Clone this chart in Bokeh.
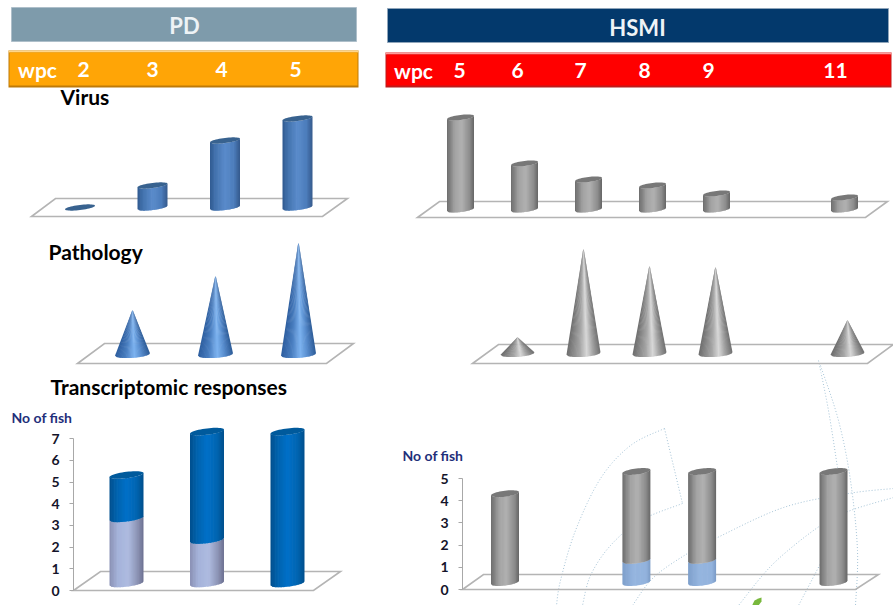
import math
from bokeh.plotting import figure
from bokeh.layouts import column, row
from bokeh.models import Range1d, Label, FixedTicker
from bokeh.core.properties import value
from bokeh.embed import file_html
from bokeh.resources import INLINE

# ---------- data ----------
pd_wpc_labels = ["2", "3", "4", "5"]
hsmi_wpc_labels = ["5", "6", "7", "8", "9", "11"]

pd_virus_wpc = [2, 3, 4, 5]
pd_virus = [0.0, 2.2, 6.7, 8.9]
hsmi_virus_wpc = [5, 6, 7, 8, 9, 11]
hsmi_virus = [9.2, 4.6, 3.0, 2.4, 1.6, 1.2]

pd_path_wpc = [3, 4, 5]
pd_path = [4.4, 7.8, 11.1]
hsmi_path_wpc = [6, 7, 8, 9, 11]
hsmi_path = [1.6, 10.4, 8.7, 8.6, 3.3]

pd_fish_wpc = [3, 4, 5]
pd_fish_lower = [3, 2, 0]
pd_fish_upper = [2, 5, 7]
hsmi_fish_wpc = [6, 8, 9, 11]
hsmi_fish_lower = [0, 1, 1, 0]
hsmi_fish_upper = [4, 4, 4, 5]

# ---------- styles / layout ----------
FONT = "Lato"
FLOOR = "#B4B4B4"
BLUE = [(0, "#2F5A90"), (.18, "#4373AE"), (.5, "#5A8BCB"), (.8, "#4C7DBB"), (1, "#33588A")]
GRAY = [(0, "#6C6C6C"), (.3, "#A4A4A4"), (.55, "#B0B0B0"), (.85, "#8A8A8A"), (1, "#646464")]
DEEP = [(0, "#004E8C"), (.2, "#0062AC"), (.5, "#0070C8"), (.8, "#0064B0"), (1, "#004F8C")]
PERI = [(0, "#8A90B4"), (.25, "#A5B3DA"), (.55, "#AEBBE0"), (.85, "#888FB0"), (1, "#6C7090")]
SKY = [(0, "#7E9FCB"), (.4, "#95B5DF"), (.85, "#93B3DD"), (1, "#7A9AC5")]
CONE_B = [(0, "#2D5E9F"), (.3, "#4A7EC0"), (.55, "#7DB3F0"), (.75, "#5A8FD0"), (1, "#2E5C98")]
CONE_G = [(0, "#6E6E6E"), (.4, "#A8A8A8"), (.6, "#D8D8D8"), (.8, "#A0A0A0"), (1, "#707070")]

LEFT_X, LEFT_W = 0, 372
RIGHT_X, RIGHT_W = 372, 521
HEAD_H = 112

WATERMARK = [
    [(818, 360), (828, 410), (837, 467)],
    [(820, 365), (838, 420), (850, 480), (857, 550), (855, 605)],
    [(664, 428), (630, 445), (600, 478), (575, 530), (560, 580), (556, 605)],
    [(664, 428), (682, 503)],
    [(682, 503), (640, 520), (610, 545), (590, 575), (582, 605)],
    [(893, 488), (848, 493), (783, 507), (717, 537), (687, 553), (653, 577), (632, 605)],
    [(893, 497), (850, 510), (820, 525), (773, 563), (738, 605)],
    [(832, 540), (820, 563), (798, 605)],
]
LEAF = [(752, 604), (754, 600), (758, 598), (761, 597), (761, 601), (758, 605), (752, 605)]


def hex2rgb(c):
    return tuple(int(c[i:i + 2], 16) for i in (1, 3, 5))


def ramp(stops, t):
    for (t0, c0), (t1, c1) in zip(stops, stops[1:]):
        if t <= t1:
            f = (t - t0) / (t1 - t0)
            a, b = hex2rgb(c0), hex2rgb(c1)
            return "#%02x%02x%02x" % tuple(round(a[i] + (b[i] - a[i]) * f) for i in range(3))
    return stops[-1][1]


def smooth(pts, n=10):
    if len(pts) < 3:
        return pts
    p = [pts[0]] + list(pts) + [pts[-1]]
    out = []
    for i in range(1, len(p) - 2):
        for j in range(n):
            t = j / n
            out.append(tuple(0.5 * (2 * p[i][k] + (p[i + 1][k] - p[i - 1][k]) * t
                                    + (2 * p[i - 1][k] - 5 * p[i][k] + 4 * p[i + 1][k] - p[i + 2][k]) * t * t
                                    + (3 * p[i][k] - p[i - 1][k] - 3 * p[i + 1][k] + p[i + 2][k]) * t ** 3)
                             for k in (0, 1)))
    out.append(pts[-1])
    return out


class Panel:
    """A figure whose scales put x value `wa` at page pixel `xa` (k px per unit) and y 0 at `y0` (s px per unit)."""

    def __init__(self, col_x, col_w, top, h, wa, xa, k, y0, s, axis=None, axis_px=None):
        self.wa, self.xa, self.k, self.y0, self.s = wa, xa, k, y0, s
        self.p = figure(width=col_w, height=h, output_backend="svg", toolbar_location=None,
                        x_range=Range1d(self.X(col_x), self.X(col_x + col_w)),
                        y_range=Range1d(self.Y(top + h), self.Y(top)),
                        x_axis_type=None, y_axis_type="linear" if axis else None,
                        min_border=0, outline_line_color=None)
        self.p.grid.visible = False
        if axis:
            ya = self.p.yaxis[0]
            ya.fixed_location = self.X(axis_px)
            ya.ticker = FixedTicker(ticks=list(range(axis + 1)))
            ya.bounds = (0, axis)
            ya.axis_line_color = "#A8A8A8"
            ya.major_tick_line_color = "#A8A8A8"
            ya.major_tick_in = 0
            ya.major_tick_out = 4
            ya.minor_tick_line_color = None
            ya.major_label_standoff = 10
            ya.major_label_text_font = FONT
            ya.major_label_text_font_style = "bold"
            ya.major_label_text_font_size = "14px"
            ya.major_label_text_color = "#14142a"

    def X(self, px):
        return self.wa + (px - self.xa) / self.k

    def Y(self, py):
        return (self.y0 - py) / self.s

    def watermark(self):
        xs, ys = [], []
        for c in WATERMARK:
            sm = smooth(c)
            xs.append([self.X(a) for a, _ in sm])
            ys.append([self.Y(b) for _, b in sm])
        self.p.multi_line(xs, ys, line_color="#A5C3D6", line_width=1, line_dash="1 2")

    def floor(self, corners):
        self.p.patch([self.X(a) for a, _ in corners], [self.Y(b) for _, b in corners],
                     fill_alpha=0, line_color=FLOOR, line_width=1.6, line_join="miter")

    def label(self, px, py, text, size, color="#000000"):
        self.p.add_layout(Label(x=self.X(px), y=self.Y(py), text=text, text_font=FONT, text_font_style="bold",
                                text_font_size=size, text_color=color, text_baseline="middle"))

    def cylinder(self, wpc, segs, w, stops_top, lift=0, b=2.6, tilt=0.12, n=22):
        """segs: list of (v0, v1, stops) from the bottom up; `lift` is the 3-D depth offset in px."""
        a = w / 2
        xs, ys, cols = [], [], []

        def low(dx):
            return (-b * math.sqrt(max(0, 1 - (dx / a) ** 2)) + tilt * dx + lift) / self.s

        for v0, v1, stops in segs:
            for i in range(n):
                d0 = -a + w * i / n
                d1 = min(a, -a + w * (i + 1) / n + 0.7)
                xs.append([wpc + d0 / self.k, wpc + d1 / self.k, wpc + d1 / self.k, wpc + d0 / self.k])
                ys.append([v0 + low(d0), v0 + low(d1), v1 + low(d1), v1 + low(d0)])
                cols.append(ramp(stops, (i + .5) / n))
        self.p.patches(xs, ys, fill_color=cols, line_color=None)
        top = segs[-1][1]
        ex, ey = [], []
        for j in range(49):
            th = 2 * math.pi * j / 48
            dx = a * math.cos(th)
            ex.append(wpc + dx / self.k)
            ey.append(top + (b * math.sin(th) + tilt * dx + lift) / self.s)
        self.p.patch(ex, ey, fill_color=stops_top, line_color=None)

    def cone(self, wpc, height, w, stops, b=3.4, tilt=0.07, n=26):
        a = w / 2
        xs, ys, cols = [], [], []

        def low(dx):
            return (-b * math.sqrt(max(0, 1 - (dx / a) ** 2)) + tilt * dx) / self.s

        for i in range(n):
            d0 = -a + w * i / n
            d1 = min(a, -a + w * (i + 1) / n + 0.7)
            xs.append([wpc + d0 * 0.02 / self.k, wpc + d0 / self.k, wpc + d1 / self.k, wpc + d1 * 0.02 / self.k])
            ys.append([height, low(d0), low(d1), height])
            cols.append(ramp(stops, (i + .5) / n))
        self.p.patches(xs, ys, fill_color=cols, line_color=None)


def header(col_x, col_w, title_rect, title_col, title_edge, title, title_px, title_py,
           bar_rect, bar_col, bar_light, bar_dark, words, word_px, word_py):
    p = figure(width=col_w, height=HEAD_H, output_backend="svg", toolbar_location=None,
               x_range=Range1d(col_x, col_x + col_w), y_range=Range1d(HEAD_H, 0),
               x_axis_type=None, y_axis_type=None, min_border=0, outline_line_color=None)
    p.grid.visible = False
    x0, x1, y0, y1 = title_rect
    p.quad(left=x0, right=x1, top=y0, bottom=y1, fill_color=title_col, line_color=title_edge, line_width=1)
    x0, x1, y0, y1 = bar_rect
    p.quad(left=x0, right=x1, top=y0, bottom=y1, fill_color=bar_dark, line_color=None)
    p.quad(left=x0, right=x1, top=y0, bottom=y0 + 2, fill_color=bar_light, line_color=None)
    p.quad(left=x0 + 1, right=x1 - 1, top=y0 + 2, bottom=y1 - 2, fill_color=bar_col, line_color=None)
    p.text([title_px], [title_py], text=[title], text_color="#EEF3F6", text_font=value(FONT),
           text_font_style="bold", text_font_size="22px", text_align="center", text_baseline="middle")
    p.text(word_px, [word_py] * len(words), text=words, text_color="#FFFFFF", text_font=value(FONT),
           text_font_style="bold", text_font_size="21px", text_align="center", text_baseline="middle")
    return p


# ---------- headers ----------
h_left = header(LEFT_X, LEFT_W, (11, 356, 7, 41), "#7E9BAB", "#AEBFCA", "PD", 184, 25,
                (8, 358, 50, 87), "#FFA506", "#FFD689", "#BE7A08",
                ["wpc"] + pd_wpc_labels, [37, 83, 152, 221, 295], 69)
h_right = header(RIGHT_X, RIGHT_W, (387, 888, 8, 42), "#03396C", "#8FA5BA", "HSMI", 637, 27,
                 (385, 891, 52, 87), "#FF0000", "#FF9A9A", "#BE1A1A",
                 ["wpc"] + hsmi_wpc_labels, [413, 459, 517, 580, 644, 708, 835], 70)
h_left.text([60], [96], text=["Virus"], text_color="#000000", text_font=value(FONT), text_font_style="bold",
            text_font_size="21px", text_align="left", text_baseline="middle")

# ---------- virus ----------
v_left = Panel(LEFT_X, LEFT_W, HEAD_H, 235 - HEAD_H, 2, 79.5, 72.5, 207, 10)
v_left.floor([(31, 216), (55, 198), (347, 198), (322, 216)])
for w, val in zip(pd_virus_wpc, pd_virus):
    v_left.cylinder(w, [(0, val, BLUE)], 30, "#38628F")

v_right = Panel(RIGHT_X, RIGHT_W, HEAD_H, 235 - HEAD_H, 5, 460, 64, 209, 10)
v_right.floor([(417, 217), (439, 201), (887, 201), (865, 217)])
for w, val in zip(hsmi_virus_wpc, hsmi_virus):
    v_right.cylinder(w, [(0, val, GRAY)], 27, "#787878")

# ---------- pathology ----------
p_left = Panel(LEFT_X, LEFT_W, 235, 137, 3, 132, 83, 354, 10)
p_left.floor([(77, 363), (104, 343), (353, 343), (326, 363)])
p_left.label(48, 251, "Pathology", "21px")
for w, val in zip(pd_path_wpc, pd_path):
    p_left.cone(w, val, 35, CONE_B)

p_right = Panel(RIGHT_X, RIGHT_W, 235, 137, 6, 517, 66, 353, 10)
p_right.watermark()
p_right.floor([(472, 363), (498, 344), (893, 344), (867, 363)])
for w, val in zip(hsmi_path_wpc, hsmi_path):
    p_right.cone(w, val, 34, CONE_G)

# ---------- transcriptomic responses ----------
t_left = Panel(LEFT_X, LEFT_W, 372, 233, 3, 126, 80.5, 590, 21.7, axis=7, axis_px=73)
t_left.floor([(73, 590), (100, 571), (340, 571), (313, 590)])
t_left.label(50, 386, "Transcriptomic responses", "21px")
t_left.label(11, 417, "No of fish", "14px", "#1F2F7A")
for w, lo, up in zip(pd_fish_wpc, pd_fish_lower, pd_fish_upper):
    segs = ([(0, lo, PERI)] if lo else []) + [(lo, lo + up, DEEP)]
    t_left.cylinder(w, segs, 34, "#005A9C", lift=7, b=3.2)

t_right = Panel(RIGHT_X, RIGHT_W, 372, 233, 6, 504.5, 65.7, 589, 22.2, axis=5, axis_px=462)
t_right.watermark()
t_right.floor([(462, 589), (483, 574), (878, 574), (855, 589)])
t_right.label(402, 455, "No of fish", "14px", "#1F2F7A")
t_right.p.patch([t_right.X(a) for a, _ in LEAF], [t_right.Y(b) for _, b in LEAF],
                fill_color="#78B83C", line_color=None)
for w, lo, up in zip(hsmi_fish_wpc, hsmi_fish_lower, hsmi_fish_upper):
    segs = ([(0, lo, SKY)] if lo else []) + [(lo, lo + up, GRAY)]
    t_right.cylinder(w, segs, 28, "#787878", lift=7, b=3.0)

page = column(row(h_left, h_right),
              row(v_left.p, v_right.p),
              row(p_left.p, p_right.p),
              row(t_left.p, t_right.p))
open("out.html", "w").write(file_html(page, INLINE))
